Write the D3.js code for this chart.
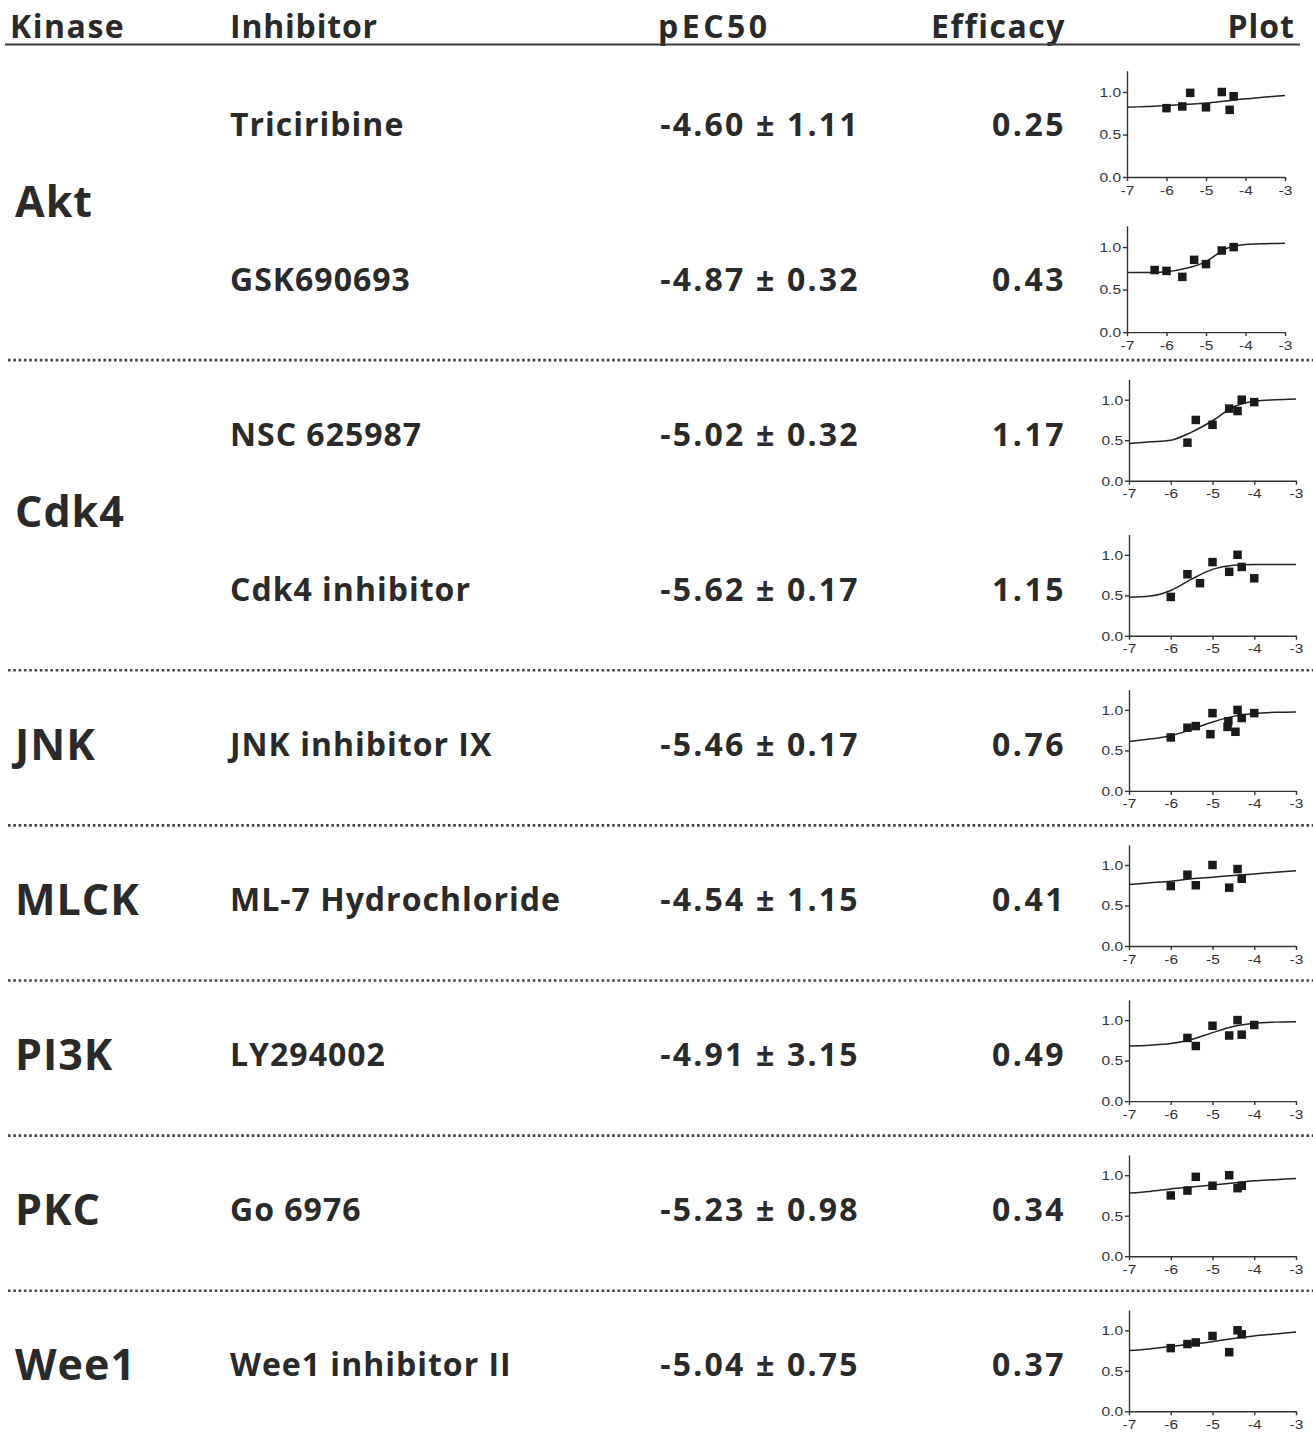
<!DOCTYPE html>
<html>
<head>
<meta charset="utf-8">
<script src="https://cdn.jsdelivr.net/npm/d3@7"></script>
<style>
  html, body { margin: 0; padding: 0; background: #fff; }
  svg { display: block; }
</style>
</head>
<body>
<svg id="chart" width="1313" height="1443"></svg>
<script>
// ---- table content ----
const headers = ["Kinase", "Inhibitor", "pEC50", "Efficacy", "Plot"];
const kinases = ["Akt", "Cdk4", "JNK", "MLCK", "PI3K", "PKC", "Wee1"];
const kinaseRowCounts = [2, 2, 1, 1, 1, 1, 1];
const inhibitors = ["Triciribine", "GSK690693", "NSC 625987", "Cdk4 inhibitor",
  "JNK inhibitor IX", "ML-7 Hydrochloride", "LY294002", "Go 6976", "Wee1 inhibitor II"];
const pec50 = [-4.60, -4.87, -5.02, -5.62, -5.46, -4.54, -4.91, -5.23, -5.04];
const pec50Err = [1.11, 0.32, 0.32, 0.17, 0.17, 1.15, 3.15, 0.98, 0.75];
const efficacy = [0.25, 0.43, 1.17, 1.15, 0.76, 0.41, 0.49, 0.34, 0.37];

// ---- mini dose-response plots ----
const xTicks = [-7, -6, -5, -4, -3];
const yTicks = [0, 0.5, 1.0];
const xDomain = [-7, -3];
const yDomain = [0, 1.25];

// measured responses (log concentration, normalised response)
const pointsX = [
  [-6, -5.6, -5.4, -5, -4.6, -4.4, -4.3],
  [-6.3, -6, -5.6, -5.3, -5, -4.6, -4.3],
  [-5.6, -5.4, -5, -4.6, -4.4, -4.3, -4],
  [-6, -5.6, -5.3, -5, -4.6, -4.4, -4.3, -4],
  [-6, -5.6, -5.4, -5, -5.05, -4.62, -4.64, -4.4, -4.45, -4.3, -4],
  [-6, -5.6, -5.4, -5, -4.6, -4.4, -4.3],
  [-5.6, -5.4, -5, -4.6, -4.4, -4.3, -4],
  [-6, -5.6, -5.4, -5, -4.6, -4.4, -4.3],
  [-6, -5.6, -5.4, -5, -4.6, -4.4, -4.3]
];
const pointsY = [
  [0.81, 0.83, 0.99, 0.82, 1.00, 0.79, 0.95],
  [0.73, 0.72, 0.65, 0.85, 0.80, 0.96, 1.00],
  [0.47, 0.75, 0.69, 0.89, 0.86, 1.00, 0.97],
  [0.48, 0.76, 0.65, 0.91, 0.79, 1.00, 0.85, 0.71],
  [0.66, 0.78, 0.80, 0.96, 0.70, 0.86, 0.79, 1.00, 0.73, 0.90, 0.96],
  [0.74, 0.88, 0.75, 1.00, 0.72, 0.95, 0.83],
  [0.78, 0.68, 0.93, 0.81, 1.00, 0.82, 0.94],
  [0.75, 0.81, 0.98, 0.87, 1.00, 0.84, 0.87],
  [0.78, 0.83, 0.85, 0.93, 0.73, 1.00, 0.95]
];

// fitted curves, sampled on a common grid
const curveX = [-7, -6.5, -6, -5.5, -5, -4.5, -4, -3.5, -3];
const curveY = [
  [0.82, 0.83, 0.84, 0.855, 0.87, 0.895, 0.92, 0.94, 0.96],
  [0.70, 0.70, 0.71, 0.75, 0.83, 0.98, 1.03, 1.04, 1.045],
  [0.46, 0.48, 0.50, 0.60, 0.74, 0.91, 0.98, 1.00, 1.01],
  [0.475, 0.49, 0.56, 0.70, 0.82, 0.87, 0.88, 0.88, 0.88],
  [0.61, 0.64, 0.68, 0.76, 0.85, 0.92, 0.955, 0.97, 0.975],
  [0.76, 0.78, 0.80, 0.83, 0.85, 0.87, 0.89, 0.91, 0.93],
  [0.68, 0.69, 0.71, 0.76, 0.845, 0.92, 0.96, 0.975, 0.98],
  [0.78, 0.80, 0.83, 0.855, 0.88, 0.905, 0.93, 0.945, 0.96],
  [0.75, 0.77, 0.80, 0.83, 0.86, 0.90, 0.93, 0.955, 0.98]
];

// ---- layout ----
const ink = "#2a2a2a";
const font = "'Open Sans', 'DejaVu Sans', sans-serif";
const rowTop = 124, rowPitch = 155.1;
const colX = { kinase: 15, inhibitor: 230, pec: 760, eff: 1066, plot: 1295 };
const rowCenter = i => rowTop + i * rowPitch;

const svg = d3.select("#chart");
svg.append("rect").attr("width", 1313).attr("height", 1443).attr("fill", "#fff");

// header
const headerX = [10, 230, 658, 1066, 1295];
const headerAnchor = ["start", "start", "start", "end", "end"];
const headerSpacing = [1.5, 0.8, 3.5, 1.5, 1];
svg.selectAll("text.header").data(headers).join("text")
  .attr("class", "header")
  .attr("x", (d, i) => headerX[i])
  .attr("y", 37.5)
  .attr("text-anchor", (d, i) => headerAnchor[i])
  .attr("font-family", font).attr("font-weight", 700)
  .attr("font-size", 32).attr("letter-spacing", (d, i) => headerSpacing[i])
  .attr("fill", ink)
  .text(d => d);

svg.append("line")
  .attr("x1", 5).attr("x2", 1300).attr("y1", 44.5).attr("y2", 44.5)
  .attr("stroke", "#3a3a3a").attr("stroke-width", 2);

// kinase groups
const groupStart = kinaseRowCounts.map((c, i) => d3.sum(kinaseRowCounts.slice(0, i)));
kinases.forEach((k, gi) => {
  const first = groupStart[gi], last = first + kinaseRowCounts[gi] - 1;
  const cy = (rowCenter(first) + rowCenter(last)) / 2;
  svg.append("text")
    .attr("x", colX.kinase).attr("y", cy + 15.5)
    .attr("font-family", font).attr("font-weight", 700)
    .attr("font-size", 43).attr("letter-spacing", 1)
    .attr("fill", ink)
    .text(k);
  if (gi < kinases.length - 1) {
    const sy = rowCenter(last) + 81;
    svg.append("line")
      .attr("x1", 8).attr("x2", 1313).attr("y1", sy).attr("y2", sy)
      .attr("stroke", "#444").attr("stroke-width", 2.6)
      .attr("stroke-dasharray", "2.6,2.7");
  }
});

// row text
const rowText = (cls, x, anchor, spacing, fmt) => svg.selectAll("text." + cls)
  .data(inhibitors).join("text")
  .attr("class", cls)
  .attr("x", x).attr("y", (d, i) => rowCenter(i) + 11.5)
  .attr("text-anchor", anchor)
  .attr("font-family", font).attr("font-weight", 700)
  .attr("font-size", 32).attr("letter-spacing", spacing)
  .attr("fill", ink)
  .text(fmt);
rowText("inh", colX.inhibitor, "start", 1, d => d);
rowText("pec", colX.pec, "middle", 2.2, (d, i) => `${pec50[i].toFixed(2)} ± ${pec50Err[i].toFixed(2)}`);
rowText("eff", colX.eff, "end", 2.5, (d, i) => efficacy[i].toFixed(2));

// mini plots
const tickFont = "'Liberation Sans', Arial, sans-serif";
const stretch = 1.15;
inhibitors.forEach((name, i) => {
  const small = i < 2;
  const x0 = small ? 1127 : 1129, x1 = small ? 1285 : 1296;
  const unit = small ? 85 : 81;
  const zeroY = rowCenter(i) + (small ? 53 : 46.5);
  const x = d3.scaleLinear().domain(xDomain).range([x0, x1]);
  const y = d3.scaleLinear().domain(yDomain).range([zeroY, zeroY - unit * yDomain[1]]);
  const g = svg.append("g");

  const xAxis = g.append("g").attr("transform", `translate(0,${zeroY})`)
    .call(d3.axisBottom(x).tickValues(xTicks).tickSize(4).tickSizeOuter(0)
      .tickFormat(d => String(d)));
  const yAxis = g.append("g").attr("transform", `translate(${x0},0)`)
    .call(d3.axisLeft(y).tickValues(yTicks).tickSize(4).tickSizeOuter(0)
      .tickFormat(d => d.toFixed(1)));
  [xAxis, yAxis].forEach(ax => {
    ax.select(".domain").attr("stroke", "#333").attr("stroke-width", 1.4);
    ax.selectAll(".tick line").attr("stroke", "#333").attr("stroke-width", 1.4);
    ax.selectAll(".tick text")
      .attr("font-family", tickFont).attr("font-size", 13.5)
      .attr("fill", "#333");
  });
  xAxis.selectAll(".tick text").attr("y", 8).attr("dy", "0.71em")
    .attr("transform", `scale(${stretch},1)`);
  yAxis.selectAll(".tick text").attr("x", -6 / stretch)
    .attr("transform", `scale(${stretch},1)`);

  const line = d3.line().x(d => x(d[0])).y(d => y(d[1])).curve(d3.curveMonotoneX);
  g.append("path")
    .datum(curveX.map((cx, j) => [cx, curveY[i][j]]))
    .attr("d", line).attr("fill", "none")
    .attr("stroke", "#222").attr("stroke-width", 1.5);

  const s = 8.5;
  g.selectAll("rect.pt").data(pointsX[i].map((px, j) => [px, pointsY[i][j]]))
    .join("rect").attr("class", "pt")
    .attr("x", d => x(d[0]) - s / 2).attr("y", d => y(d[1]) - s / 2)
    .attr("width", s).attr("height", s).attr("fill", "#1a1a1a");
});
</script>
</body>
</html>
